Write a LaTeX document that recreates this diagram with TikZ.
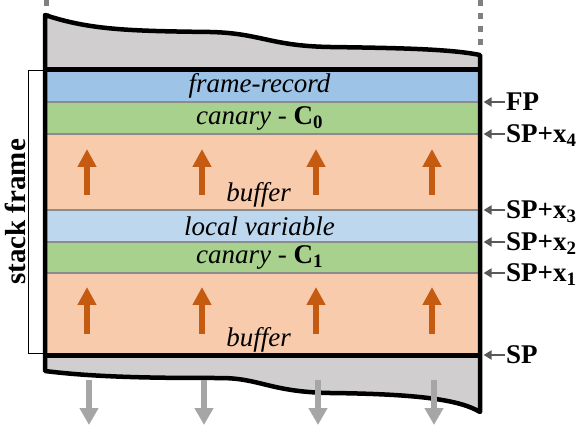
\documentclass[tikz,border=0pt]{standalone}
\usepackage{fontspec}
\setmainfont{Liberation Serif}
\usetikzlibrary{arrows.meta,positioning}
\definecolor{recblue}{HTML}{9DC3E6}
\definecolor{locblue}{HTML}{BDD7EE}
\definecolor{cangreen}{HTML}{A9D18E}
\definecolor{bufpeach}{HTML}{F8CBAD}
\definecolor{memgray}{HTML}{D0CECE}
\definecolor{sepgray}{HTML}{8C8C8C}
\definecolor{groworange}{HTML}{C55A11}
\definecolor{downgray}{HTML}{A6A6A6}
\definecolor{ptrgray}{HTML}{595959}
\definecolor{dotgray}{HTML}{808080}
\newcommand{\canlbl}[1]{canary - \textup{\textbf{C}\textsubscript{\textbf{#1}}}}
\newcommand{\splbl}[1]{SP+x\textsubscript{#1}}
\begin{document}
\begin{tikzpicture}[x=1pt,y=-1pt,font=\fontsize{27}{30}\selectfont,
  band node/.style={rectangle,draw=sepgray,line width=1.2pt,minimum width=435pt,inner sep=0pt,font=\fontsize{27}{30}\selectfont\itshape},
  grow arrow/.style={draw=groworange,line width=5.5pt,-{Triangle[width=18pt,length=18pt]}},
  down arrow/.style={draw=downgray,line width=5.5pt,-{Triangle[width=18pt,length=17pt]}},
  ptr/.style={draw=ptrgray,line width=2.5pt,-{Triangle[width=9pt,length=8pt]},shorten >=3pt},
  ptr label/.style={anchor=west,inner sep=1pt,text depth=0pt,font=\fontsize{27}{30}\selectfont\bfseries},
  edge line/.style={line width=4.5pt,line join=round}]
\useasboundingbox (0,0) rectangle (581,430);
% stack frame bracket
\node[draw,line width=1.2pt,fill=white,minimum width=17pt,minimum height=283pt,inner sep=0pt] (bracket) at (37,212) {};
\node[rotate=90,font=\fontsize{29}{30}\selectfont\bfseries] (sflbl) at (15,212) {stack frame};
% dotted continuation
\draw[dotgray,line width=5pt,dash pattern=on 6pt off 7pt] (46,0) -- (46,15);
\draw[dotgray,line width=5pt,dash pattern=on 6pt off 7pt] (480,0) -- (480,52);
% memory region
\fill[memgray] (45,15) .. controls (90,30) and (130,31) .. (210,32) .. controls (260,33) and (270,46) .. (330,47) .. controls (400,48) and (450,49) .. (480,55)
  -- (480,412) .. controls (460,400) and (420,394) .. (330,393) .. controls (270,392) and (260,378) .. (220,378) .. controls (170,378) and (100,378) .. (45,371) -- cycle;
% bands
\node[band node,fill=recblue,minimum height=32pt] (rec) at (262.5,86) {\hspace*{-6pt}frame-record};
\node[band node,fill=cangreen,minimum height=32pt] (can0) at (262.5,118) {\hspace*{-6pt}\canlbl{0}};
\node[band node,fill=bufpeach,minimum height=76pt] (buf0) at (262.5,172) {};
\node[band node,fill=locblue,minimum height=32pt] (loc) at (262.5,226) {\hspace*{-6pt}local variable};
\node[band node,fill=cangreen,minimum height=31pt] (can1) at (262.5,257.5) {\hspace*{-6pt}\canlbl{1}};
\node[band node,fill=bufpeach,minimum height=82pt] (buf1) at (262.5,314) {};
\node[font=\fontsize{27}{30}\selectfont\itshape,anchor=south,inner sep=3pt,xshift=-4pt] (buf0lbl) at (buf0.south) {buffer};
\node[font=\fontsize{27}{30}\selectfont\itshape,anchor=south,inner sep=3pt,xshift=-4pt] (buf1lbl) at (buf1.south) {buffer};
% outline
\draw[edge line] (45,15) .. controls (90,30) and (130,31) .. (210,32) .. controls (260,33) and (270,46) .. (330,47) .. controls (400,48) and (450,49) .. (480,55)
  -- (480,412) .. controls (460,400) and (420,394) .. (330,393) .. controls (270,392) and (260,378) .. (220,378) .. controls (170,378) and (100,378) .. (45,371) -- cycle;
\draw[edge line] (rec.north west) -- (rec.north east);
\draw[edge line] (buf1.south west) -- (buf1.south east);
% growth arrows
\foreach \x in {87,202,316,432} {
  \draw[grow arrow] (\x,195) -- (\x,149);
  \draw[grow arrow] (\x,334) -- (\x,287);
  \draw[down arrow] (\x+2,380) -- (\x+2,425);
}
% pointers
\node[ptr label] (fp) at (505,102) {FP};
\node[ptr label] (sp4) at (505,134) {\splbl{4}};
\node[ptr label] (sp3) at (505,210) {\splbl{3}};
\node[ptr label] (sp2) at (505,242) {\splbl{2}};
\node[ptr label] (sp1) at (505,273) {\splbl{1}};
\node[ptr label] (sp) at (505,355) {SP};
\foreach \n in {fp,sp4,sp3,sp2,sp1,sp}
  \draw[ptr] (\n.west) -- (\n.west -| rec.east);
\end{tikzpicture}
\end{document}
